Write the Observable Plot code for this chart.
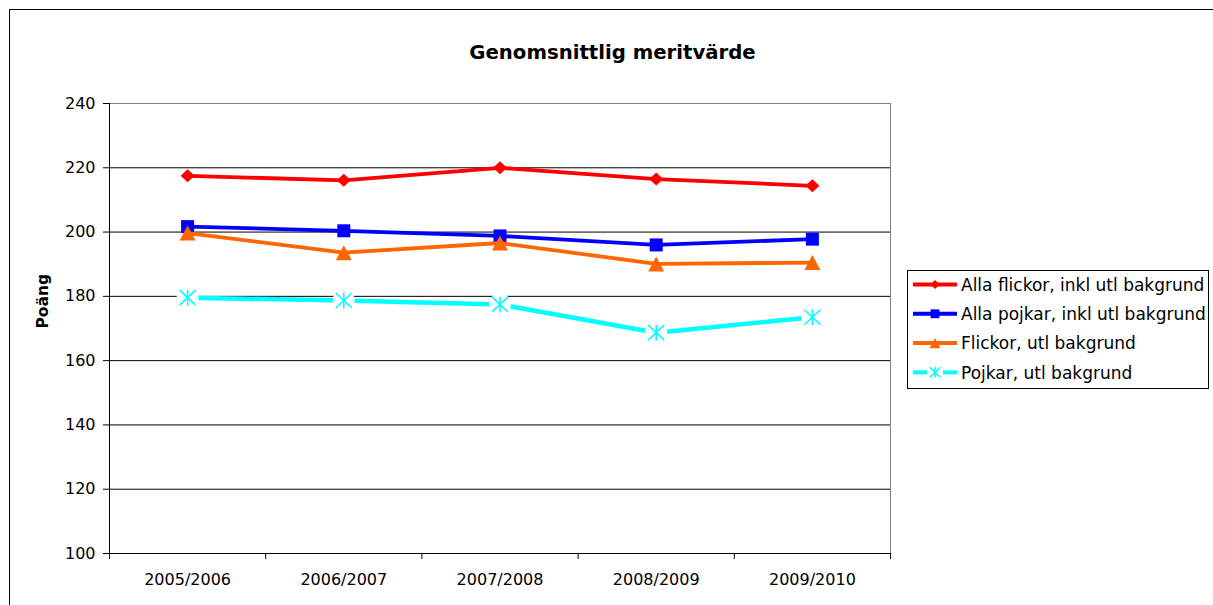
<!DOCTYPE html>
<html>
<head>
<meta charset="utf-8">
<script src="https://cdn.jsdelivr.net/npm/d3@7"></script>
<script src="https://cdn.jsdelivr.net/npm/@observablehq/plot@0.6"></script>
<style>
  html, body { margin: 0; padding: 0; background: #fff; }
  #wrap { position: relative; width: 1213px; height: 605px; overflow: hidden; background: #fff; }
  #border { position: absolute; left: 9px; top: 9px; right: -2px; bottom: -2px; border-left: 1px solid #000; border-top: 1px solid #000; }
  #chart { position: absolute; left: 0; top: 0; }
  #legend { position: absolute; left: 907px; top: 270px; }
</style>
</head>
<body>
<div id="wrap">
  <div id="border"></div>
  <div id="chart"></div>
  <div id="legend"></div>
</div>
<script>
// ---- data ----
const categories = ["2005/2006", "2006/2007", "2007/2008", "2008/2009", "2009/2010"];
const seriesNames = [
  "Alla flickor, inkl utl bakgrund",
  "Alla pojkar, inkl utl bakgrund",
  "Flickor, utl bakgrund",
  "Pojkar, utl bakgrund"
];
const allaFlickor = [217.5, 216.1, 220.0, 216.5, 214.4];
const allaPojkar  = [201.7, 200.4, 198.8, 196.0, 197.8];
const flickorUtl  = [199.7, 193.6, 196.6, 190.1, 190.5];
const pojkarUtl   = [179.6, 178.7, 177.5, 168.7, 173.5];
const yTicks = [100, 120, 140, 160, 180, 200, 220, 240];
const titleText = "Genomsnittlig meritvärde";
const yLabel = "Poäng";

const seriesValues = [allaFlickor, allaPojkar, flickorUtl, pojkarUtl];
const colors = ["#FF0000", "#0000FF", "#FF6600", "#00FFFF"];

// ---- marker shapes (Excel-like) ----
function makeSymbols(k) {
  return [
    {draw(c) { c.moveTo(0, -6.5 * k); c.lineTo(7 * k, 0); c.lineTo(0, 6.5 * k); c.lineTo(-7 * k, 0); c.closePath(); }},
    {draw(c) { c.moveTo(-6.5 * k, -6.5 * k); c.lineTo(6.5 * k, -6.5 * k); c.lineTo(6.5 * k, 6.5 * k); c.lineTo(-6.5 * k, 6.5 * k); c.closePath(); }},
    {draw(c) { c.moveTo(0, -7.5 * k); c.lineTo(8 * k, 7.5 * k); c.lineTo(-8 * k, 7.5 * k); c.closePath(); }},
    {draw(c) {
      c.moveTo(0, -8 * k); c.lineTo(0, 8 * k);
      c.moveTo(-8 * k, -7.5 * k); c.lineTo(8 * k, 7.5 * k);
      c.moveTo(-8 * k, 7.5 * k); c.lineTo(8 * k, -7.5 * k);
    }}
  ];
}
const symbols = makeSymbols(1);
const backing = {draw(c) { c.arc(0, 0, 11, 0, 2 * Math.PI); }};

const idx = (d, i) => i;
const val = d => d;

const seriesMarks = [];
seriesValues.forEach((vals, s) => {
  const col = colors[s];
  seriesMarks.push(Plot.line(vals, {x: idx, y: val, stroke: col, strokeWidth: s === 3 ? 4.5 : 3.8, strokeLinejoin: "round"}));
  if (s === 3) {
    seriesMarks.push(Plot.dot(vals, {x: idx, y: val, symbol: backing, r: 5, fill: "#fff", stroke: "none"}));
    seriesMarks.push(Plot.dot(vals, {x: idx, y: val, symbol: symbols[s], r: 5, fill: "none", stroke: col, strokeWidth: 1.6}));
  } else {
    seriesMarks.push(Plot.dot(vals, {x: idx, y: val, symbol: symbols[s], r: 5, fill: col, stroke: "none"}));
  }
});

const boundaries = categories.map((_, i) => i - 0.5).concat([categories.length - 0.5]);
const centers = categories.map((_, i) => i);

const chart = Plot.plot({
  width: 1213,
  height: 605,
  marginLeft: 109,
  marginRight: 323,
  marginTop: 103,
  marginBottom: 52,
  style: {fontFamily: "DejaVu Sans", fontSize: "16px", color: "#000", background: "transparent", overflow: "visible"},
  x: {type: "linear", domain: [-0.5, categories.length - 0.5], axis: null},
  y: {domain: [100, 240], axis: null},
  marks: [
    Plot.ruleY(yTicks.slice(1, -1), {stroke: "#000", strokeWidth: 1}),
    Plot.ruleY([240], {stroke: "#808080"}),
    Plot.ruleX([categories.length - 0.5], {stroke: "#808080"}),
    Plot.ruleX([-0.5], {stroke: "#000"}),
    Plot.ruleY([100], {stroke: "#000"}),
    Plot.axisY(yTicks, {tickSize: 6, tickPadding: 8, label: null, fontSize: 16}),
    Plot.axisX(boundaries, {tickSize: 6, tickFormat: () => "", label: null}),
    Plot.axisX(centers, {tickSize: 0, tickPadding: 20, tickFormat: i => categories[i], label: null, fontSize: 16}),
    ...seriesMarks,
    Plot.text([titleText], {text: d => d, frameAnchor: "top", dx: 112.5, dy: -59, fontWeight: "bold", fontSize: 19.7}),
    Plot.text([yLabel], {text: d => d, frameAnchor: "left", dx: -66, rotate: -90, fontWeight: "bold", fontSize: 15.5})
  ]
});
document.getElementById("chart").appendChild(chart);

// ---- legend ----
const legSyms = makeSymbols(0.68);
const lw = 301, lh = 118;
const leg = d3.select("#legend").append("svg").attr("width", lw + 2).attr("height", lh + 2)
  .style("font-family", "DejaVu Sans").style("font-size", "17px");
leg.append("rect").attr("x", 0.5).attr("y", 0.5).attr("width", lw).attr("height", lh)
  .attr("fill", "#fff").attr("stroke", "#000");
seriesNames.forEach((name, s) => {
  const cy = 14.5 + s * 29.3;
  const g = leg.append("g").attr("transform", `translate(0,${cy})`);
  if (s === 3) {
    g.append("line").attr("x1", 6).attr("x2", 20).attr("y1", 0).attr("y2", 0).attr("stroke", colors[s]).attr("stroke-width", 4);
    g.append("line").attr("x1", 36).attr("x2", 50).attr("y1", 0).attr("y2", 0).attr("stroke", colors[s]).attr("stroke-width", 4);
    g.append("path").attr("transform", "translate(28,0)").attr("d", d3.symbol(legSyms[s])()).attr("fill", "none").attr("stroke", colors[s]).attr("stroke-width", 1.5);
  } else {
    g.append("line").attr("x1", 6).attr("x2", 50).attr("y1", 0).attr("y2", 0).attr("stroke", colors[s]).attr("stroke-width", 4);
    g.append("path").attr("transform", "translate(28,0)").attr("d", d3.symbol(legSyms[s])()).attr("fill", colors[s]);
  }
  g.append("text").attr("x", 54).attr("y", 0).attr("dy", "0.36em").attr("fill", "#000").text(name);
});
</script>
</body>
</html>
